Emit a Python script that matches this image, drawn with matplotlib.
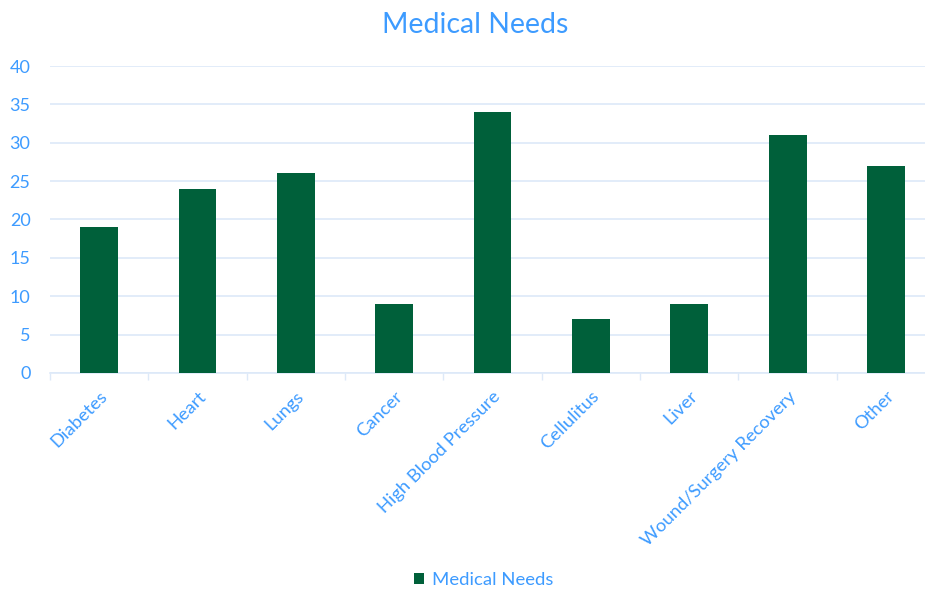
import matplotlib
matplotlib.use("Agg")
import matplotlib.pyplot as plt
import matplotlib.transforms as mtransforms
import numpy as np

categories = ["Diabetes", "Heart", "Lungs", "Cancer", "High Blood Pressure",
              "Cellulitus", "Liver", "Wound/Surgery Recovery", "Other"]
values = [19, 24, 26, 9, 34, 7, 9, 31, 27]
series_name = "Medical Needs"
yticks = [0, 5, 10, 15, 20, 25, 30, 35, 40]

plt.rcParams['font.family'] = ['Lato', 'DejaVu Sans']
text_color = "#3d9bff"
bar_color = "#00603a"
grid_color = "#dde9f8"

fig = plt.figure(figsize=(9.25, 5.9), dpi=100)
ax = fig.add_axes([0.054, 0.368, 0.957, 0.52])

x = np.arange(len(categories))
ax.bar(x, values, width=0.385, color=bar_color, label=series_name, zorder=3)

ax.set_xlim(-0.5, len(categories) - 0.5)
ax.set_ylim(0, 40)
ax.set_yticks(yticks)
ax.set_yticklabels([str(v) for v in yticks], color=text_color, fontsize=13)
ax.tick_params(axis='y', length=0, pad=14)

ax.set_xticks(x)
ax.set_xticklabels(categories, rotation=45, ha='right', rotation_mode='anchor',
                   color=text_color, fontsize=13.2)
offset = mtransforms.ScaledTranslation(-6 / 100, -3 / 100, fig.dpi_scale_trans)
for lbl in ax.get_xticklabels():
    lbl.set_transform(lbl.get_transform() + offset)
ax.set_xticks(np.arange(len(categories) + 1) - 0.5, minor=True)
ax.tick_params(axis='x', which='major', length=0, pad=11)
ax.tick_params(axis='x', which='minor', length=5, color=grid_color, width=1)

ax.grid(axis='y', color=grid_color, linewidth=1.2, zorder=0)
for s in ['top', 'right', 'left']:
    ax.spines[s].set_visible(False)
ax.spines['bottom'].set_color(grid_color)
ax.spines['bottom'].set_linewidth(1.2)

fig.text(0.514, 0.958, "Medical Needs", ha='center', va='center',
         color=text_color, fontsize=20.5)

leg = fig.legend(loc='center', bbox_to_anchor=(0.523, 0.017), frameon=False,
                 fontsize=13.3, handlelength=0.55, handleheight=0.55, handletextpad=0.4)
for t in leg.get_texts():
    t.set_color(text_color)

fig.savefig("out.png", dpi=100)
